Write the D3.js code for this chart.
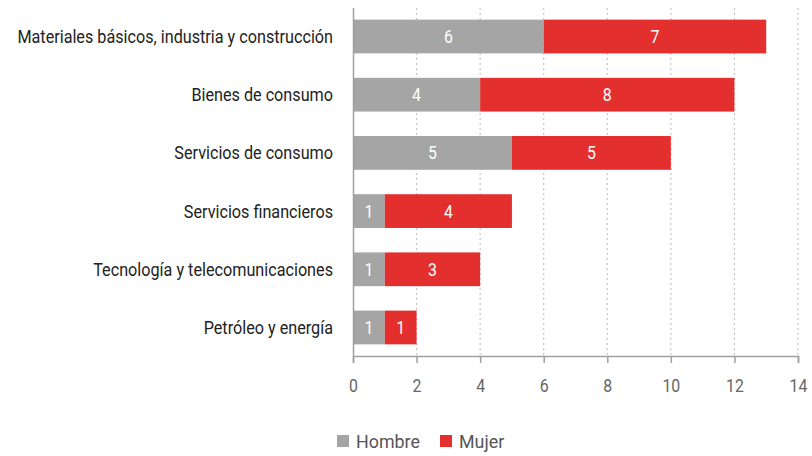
<!DOCTYPE html>
<html><head><meta charset="utf-8">
<script src="https://cdn.jsdelivr.net/npm/d3@7"></script>
<style>body{margin:0;background:#fff}svg{display:block}</style>
</head><body><svg id="c" width="812" height="456"></svg>
<script>
const categories = ["Materiales básicos, industria y construcción","Bienes de consumo","Servicios de consumo","Servicios financieros","Tecnología y telecomunicaciones","Petróleo y energía"];
const hombre = [6,4,5,1,1,1];
const mujer = [7,8,5,4,3,1];
const seriesNames = ["Hombre","Mujer"];
const colors = ["#a5a5a5","#e3302f"];
const xTicks = [0,2,4,6,8,10,12,14];

const svg = d3.select("#c");
const font = "Roboto, sans-serif";
const x = d3.scaleLinear().domain([0,14]).range([353,798]);
const y = d3.scaleBand().domain(categories).range([8,356]).paddingInner(0.42).paddingOuter(0.2);
const sx = (cx,s)=>`translate(${cx},0) scale(${s},1) translate(${-cx},0)`;

// gridlines
svg.append("g").selectAll("line").data(xTicks.filter(d=>d>0)).join("line")
  .attr("x1",d=>x(d)).attr("x2",d=>x(d)).attr("y1",8).attr("y2",356)
  .attr("stroke","#c4c4c4").attr("stroke-width",1.2).attr("stroke-dasharray","2,3");

const data = categories.map((c,i)=>({c, v:[hombre[i],mujer[i]]}));
const stack = d3.stack().keys([0,1]).value((d,k)=>d.v[k]);
const layers = stack(data);
layers.forEach((layer,k)=>{
  const g = svg.append("g");
  g.selectAll("rect").data(layer).join("rect")
    .attr("x",d=>x(d[0])).attr("width",d=>x(d[1])-x(d[0]))
    .attr("y",d=>y(d.data.c)).attr("height",y.bandwidth())
    .attr("fill",colors[k]);
  g.selectAll("text").data(layer).join("text")
    .attr("x",d=>(x(d[0])+x(d[1]))/2).attr("y",d=>y(d.data.c)+y.bandwidth()/2)
    .attr("dy","0.36em").attr("text-anchor","middle")
    .attr("transform",d=>sx((x(d[0])+x(d[1]))/2,0.88))
    .attr("fill","#fff").attr("font-family",font).attr("font-size",18)
    .text(d=>d[1]-d[0]);
});

// y axis line
svg.append("line").attr("x1",353.5).attr("x2",353.5).attr("y1",8).attr("y2",356).attr("stroke","#a0a0a0").attr("stroke-width",1.5);
// category labels
svg.append("g").selectAll("text").data(categories).join("text")
  .attr("x",333).attr("y",d=>y(d)+y.bandwidth()/2).attr("dy","0.36em")
  .attr("text-anchor","end").attr("fill","#222").attr("font-family",font).attr("font-size",18)
  .attr("transform",sx(333,0.9))
  .text(d=>d);

// x axis
const xa = svg.append("g").attr("transform","translate(0,356)")
  .call(d3.axisBottom(x).tickValues(xTicks).tickSize(7).tickPadding(16).tickFormat(d3.format("d")));
xa.select(".domain").attr("stroke","#a0a0a0").attr("stroke-width",1.5);
xa.selectAll(".tick line").attr("stroke","#a0a0a0").attr("stroke-width",1.5);
xa.selectAll(".tick text").attr("fill","#666").attr("font-family",font).attr("font-size",18)
  .attr("transform","scale(0.88,1)");

// legend
const leg = svg.append("g");
const legX = [337,440];
seriesNames.forEach((s,i)=>{
  leg.append("rect").attr("x",legX[i]).attr("y",435).attr("width",12).attr("height",12).attr("fill",colors[i]);
  leg.append("text").attr("x",legX[i]+19).attr("y",441).attr("dy","0.36em")
    .attr("fill","#555").attr("font-family",font).attr("font-size",19)
    .attr("transform",sx(legX[i]+19,0.94)).text(s);
});
</script></body></html>
